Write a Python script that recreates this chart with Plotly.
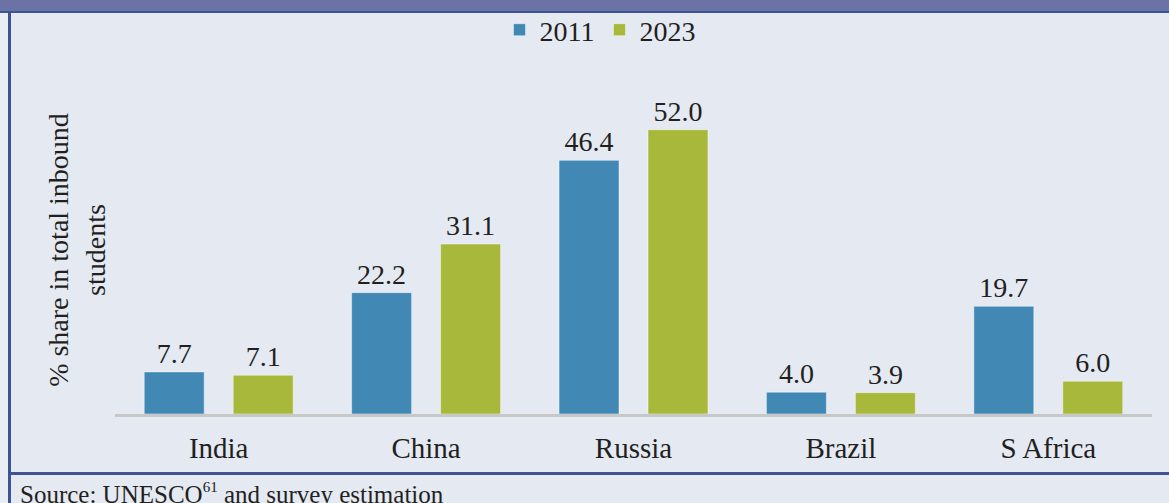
import plotly.graph_objects as go

# Inbound student share by country, 2011 vs 2023
countries = ["India", "China", "Russia", "Brazil", "S Africa"]
share_2011 = [7.7, 22.2, 46.4, 4.0, 19.7]
share_2023 = [7.1, 31.1, 52.0, 3.9, 6.0]
series_names = ["2011", "2023"]

W, H = 1169, 503
ML, MR, MT, MB = 115, 17, 86, 89
PLOT_W = W - ML - MR
PLOT_H = H - MT - MB


def px_x(x):
    """Pixel column -> paper x coordinate."""
    return (x - ML) / PLOT_W


def px_y(y):
    """Pixel row (from top) -> paper y coordinate."""
    return (H - MB - y) / PLOT_H


FONT = "Liberation Serif"
TEXT = "#231f20"
BLUE = "#4189b4"
GREEN = "#a8b83a"
BG = "#e4e9f2"
FRAME = "#3e5393"

fig = go.Figure()
for name, vals, color in [(series_names[0], share_2011, BLUE),
                          (series_names[1], share_2023, GREEN)]:
    fig.add_trace(go.Bar(
        x=countries, y=vals, name=name,
        marker=dict(color=color, line=dict(color="rgba(255,255,255,0.45)", width=1)),
        text=[f"{v:.1f}" for v in vals],
        textposition="outside",
        textfont=dict(family=FONT, size=28, color=TEXT),
        cliponaxis=False,
    ))

shapes = [
    # header band
    dict(type="rect", xref="paper", yref="paper", x0=px_x(0), x1=px_x(W),
         y0=px_y(11), y1=px_y(0), fillcolor="#6b72a6", line=dict(width=0), layer="below"),
    dict(type="rect", xref="paper", yref="paper", x0=px_x(0), x1=px_x(W),
         y0=px_y(13), y1=px_y(11), fillcolor=FRAME, line=dict(width=0), layer="below"),
    # left margin strip and border
    dict(type="rect", xref="paper", yref="paper", x0=px_x(0), x1=px_x(8),
         y0=px_y(H), y1=px_y(13), fillcolor="#eaedf3", line=dict(width=0), layer="below"),
    dict(type="rect", xref="paper", yref="paper", x0=px_x(8), x1=px_x(11),
         y0=px_y(H), y1=px_y(13), fillcolor=FRAME, line=dict(width=0), layer="below"),
    # rule above the source note
    dict(type="rect", xref="paper", yref="paper", x0=px_x(8), x1=px_x(W),
         y0=px_y(475), y1=px_y(472), fillcolor=FRAME, line=dict(width=0), layer="below"),
]

fig.update_layout(
    width=W, height=H,
    margin=dict(l=ML, r=MR, t=MT, b=MB, pad=0, autoexpand=False),
    paper_bgcolor=BG, plot_bgcolor=BG,
    barmode="group", bargap=0.142, bargroupgap=0.326,
    font=dict(family=FONT, color=TEXT, size=28),
    showlegend=True,
    legend=dict(orientation="h", x=px_x(600), xanchor="center", y=px_y(5), yanchor="top",
                font=dict(family=FONT, size=28, color=TEXT), bgcolor="rgba(0,0,0,0)",
                traceorder="normal"),
    xaxis=dict(showline=True, linecolor="#c8c8c8", linewidth=3, ticks="outside",
               ticklen=6, tickcolor="rgba(0,0,0,0)", showgrid=False,
               tickfont=dict(family=FONT, size=29, color=TEXT)),
    yaxis=dict(range=[0, 60], showticklabels=False, showgrid=False, zeroline=False,
               showline=False, ticks="",
               title=dict(text="% share in total inbound<br>students",
                          font=dict(family=FONT, size=28, color=TEXT), standoff=0)),
    shapes=shapes,
    annotations=[dict(text="Source: UNESCO<sup><span style='font-size:15px'>61</span></sup> and survey estimation",
                      xref="paper", yref="paper", x=px_x(18), y=px_y(477),
                      xanchor="left", yanchor="top", showarrow=False,
                      font=dict(family=FONT, size=25, color=TEXT))],
)

fig.write_html("out.html")
